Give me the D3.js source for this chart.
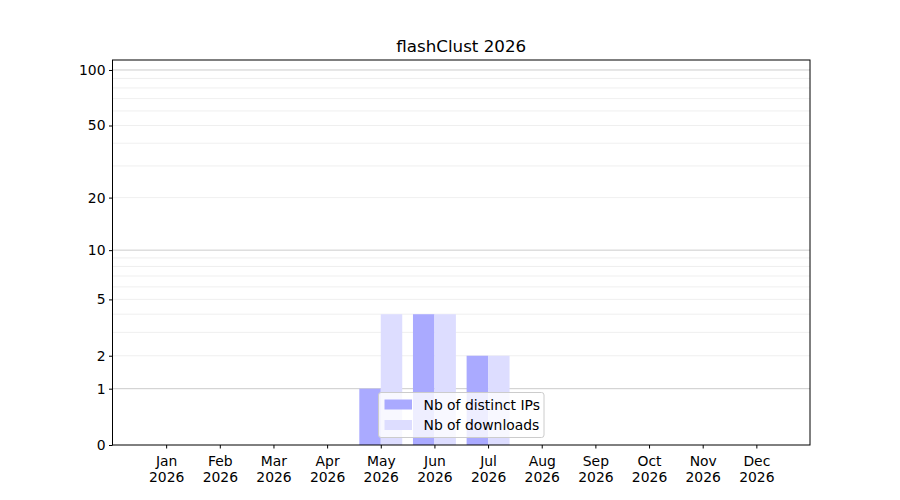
<!DOCTYPE html>
<html>
<head>
<meta charset="utf-8">
<script src="https://cdn.jsdelivr.net/npm/d3@7"></script>
<style>
  body { margin: 0; background: #fff; }
  text { font-family: "DejaVu Sans", sans-serif; }
</style>
</head>
<body>
<div id="chart"></div>
<script>
const title = "flashClust 2026";
const months = ["Jan","Feb","Mar","Apr","May","Jun","Jul","Aug","Sep","Oct","Nov","Dec"];
const year = "2026";
const distinctIPs = [0,0,0,0,1,4,2,0,0,0,0,0];
const downloads   = [0,0,0,0,4,4,2,0,0,0,0,0];
const yTicks = [0,1,2,5,10,20,50,100];
const majorGrid = [1,10,100];
const minorGrid = [2,3,4,5,6,7,8,9,20,30,40,50,60,70,80,90];
const seriesNames = ["Nb of distinct IPs","Nb of downloads"];
const colors = ["#aaaaff","#ddddff"];

const W = 900, H = 500;
const m = {left: 112.5, right: 810, top: 60, bottom: 445};

const svg = d3.select("#chart").append("svg").attr("width", W).attr("height", H);

const x = d3.scaleLinear().domain([-1, 12]).range([m.left, m.right]);
const f = v => Math.log10(1 + v);
const yl = d3.scaleLinear().domain([0, f(113.2)]).range([m.bottom, m.top]);
const y = v => yl(f(v));

// grid
svg.append("g").selectAll("line").data(minorGrid).join("line")
  .attr("x1", m.left).attr("x2", m.right)
  .attr("y1", d => y(d)).attr("y2", d => y(d))
  .attr("stroke", "#ebebeb").attr("stroke-width", 0.8);
svg.append("g").selectAll("line").data(majorGrid).join("line")
  .attr("x1", m.left).attr("x2", m.right)
  .attr("y1", d => y(d)).attr("y2", d => y(d))
  .attr("stroke", "#cccccc").attr("stroke-width", 1);

const bw = 0.4;
// bars
const series = [distinctIPs, downloads];
series.forEach((s, si) => {
  svg.append("g").selectAll("rect").data(s.map((v, i) => ({v, i}))).join("rect")
    .attr("x", d => x(d.i - bw + si * bw))
    .attr("width", d => x(bw) - x(0))
    .attr("y", d => y(d.v))
    .attr("height", d => y(0) - y(d.v))
    .attr("fill", colors[si]);
});

// frame
svg.append("rect").attr("x", m.left).attr("y", m.top)
  .attr("width", m.right - m.left).attr("height", m.bottom - m.top)
  .attr("fill", "none").attr("stroke", "#000").attr("stroke-width", 1);

// y axis
const yAxis = d3.axisLeft(yl).tickValues(yTicks.map(f)).tickFormat((d, i) => yTicks[i])
  .tickSize(3.5).tickPadding(3.5);
const gy = svg.append("g").attr("transform", `translate(${m.left},0)`).call(yAxis);
gy.select(".domain").remove();
gy.selectAll("text").attr("font-size", "13.9px").attr("fill", "#000").style("font-family", "DejaVu Sans");
gy.selectAll("line").attr("stroke", "#000");

// x axis
const xAxis = d3.axisBottom(x).tickValues(d3.range(12)).tickFormat(() => "").tickSize(3.5);
const gx = svg.append("g").attr("transform", `translate(0,${m.bottom})`).call(xAxis);
gx.select(".domain").remove();
gx.selectAll("line").attr("stroke", "#000");
gx.selectAll(".tick").each(function(d) {
  const t = d3.select(this).append("text").attr("fill", "#000")
    .attr("font-size", "13.9px").attr("text-anchor", "middle").style("font-family", "DejaVu Sans");
  t.append("tspan").attr("x", 0).attr("y", 21).text(months[d]);
  t.append("tspan").attr("x", 0).attr("y", 37).text(year);
});

// title
svg.append("text").attr("x", (m.left + m.right) / 2).attr("y", 52)
  .attr("text-anchor", "middle").attr("font-size", "16.7px").attr("fill", "#000")
  .text(title);

// legend
const lg = svg.append("g");
const lx = 378.5, ly = 392.5, lw = 165.5, lh = 45;
lg.append("rect").attr("x", lx).attr("y", ly).attr("width", lw).attr("height", lh)
  .attr("rx", 2.5).attr("fill", "#fff").attr("fill-opacity", 0.8)
  .attr("stroke", "#cccccc").attr("stroke-width", 1);
seriesNames.forEach((n, i) => {
  const yy = ly + 12 + i * 20.5;
  lg.append("rect").attr("x", lx + 6).attr("y", yy - 5).attr("width", 27.5).attr("height", 10)
    .attr("fill", colors[i]);
  lg.append("text").attr("x", lx + 45).attr("y", yy + 5)
    .attr("font-size", "13.9px").attr("fill", "#000").text(n);
});
</script>
</body>
</html>
